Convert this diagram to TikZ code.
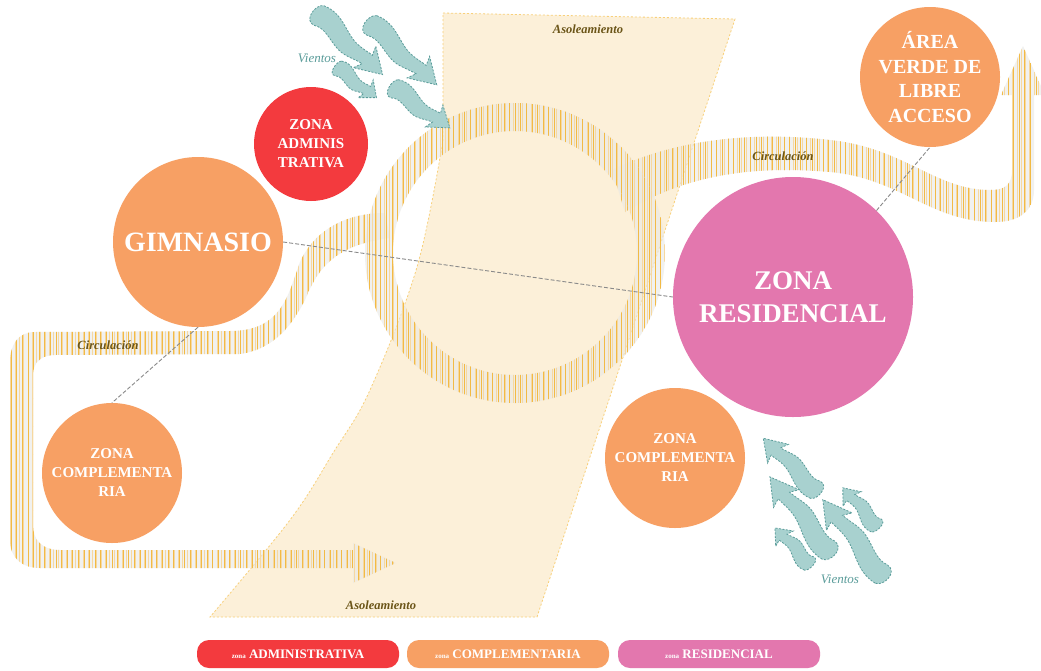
\documentclass[tikz,border=0pt]{standalone}
\usepackage{fontspec}
\setmainfont{Liberation Serif}
\usetikzlibrary{patterns.meta}
\definecolor{rojozona}{HTML}{F33A3E}
\definecolor{naranjazona}{HTML}{F7A064}
\definecolor{rosazona}{HTML}{E377AE}
\definecolor{sol}{HTML}{FCF0D9}
\definecolor{solborde}{HTML}{F8D07A}
\definecolor{rayas}{HTML}{F2BA45}
\definecolor{rayasclaras}{HTML}{F6D8A0}
\definecolor{grisfranja}{HTML}{E8E8E5}
\definecolor{tealviento}{HTML}{A8D1CF}
\definecolor{tealborde}{HTML}{5A9C9A}
\definecolor{oliva}{HTML}{6B5518}
\definecolor{trazo}{HTML}{8A8A8A}

\tikzset{
  pics/viento/.style={code={
    \draw[fill=tealviento, draw=tealborde, line width=0.8pt, dash pattern=on 2pt off 1.5pt]
      (0,-10) .. controls (22,-18) and (38,-5) .. (56,-5) .. controls (66,-5) and (72,-7) .. (77,-7)
      -- (73,-16) -- (100,0) -- (71,15) -- (75,6)
      .. controls (64,8) and (55,13) .. (44,12) .. controls (30,11) and (18,5) .. (7,11)
      .. controls (-6,15) and (-8,-6) .. (0,-10) -- cycle;
  }}
}

\begin{document}
\begin{tikzpicture}[x=1pt, y=-1pt, font=\small,
  zona/.style={circle, inner sep=0pt, text=white, align=center, font=\bfseries},
  enlace/.style={draw=trazo, line width=0.9pt, dash pattern=on 4pt off 2pt},
  franja/.style={preaction={fill=grisfranja, fill opacity=0.6},
    preaction={pattern={Lines[angle=90,distance=4.3pt,line width=0.6pt,xshift=2pt]}, pattern color=rayasclaras},
    pattern={Lines[angle=90,distance=5.6pt,line width=1pt]}, pattern color=rayas},
  anillo/.style={even odd rule, preaction={fill=grisfranja, fill opacity=0.6, even odd rule},
    preaction={even odd rule, pattern={Lines[angle=90,distance=4.3pt,line width=0.6pt,xshift=2pt]}, pattern color=rayasclaras},
    pattern={Lines[angle=90,distance=5.6pt,line width=1pt]}, pattern color=rayas},
  rotulo/.style={font=\fontsize{12.5}{13}\selectfont\bfseries\itshape, text=oliva},
  leyenda/.style={rounded corners=12pt, minimum width=202pt, minimum height=28pt, text=white,
    font=\fontsize{13}{13}\selectfont\bfseries}]
  \fill[white] (0,0) rectangle (1041,670);
  \useasboundingbox (0,0) rectangle (1041,670);

  % asoleamiento
  \path[fill=sol, draw=solborde, line width=0.8pt, dash pattern=on 2pt off 2pt]
    (443,13) -- (735,19) -- (537,617)
    -- plot[smooth, tension=0.6] coordinates {(210,617) (290,520) (333,453) (370,390) (417,267) (443,140)} -- cycle;

  % circulacion
  \path[franja] (385,213) .. controls (340,213) and (312,235) .. (300,262)
    .. controls (288,295) and (282,331) .. (230,331) -- (35,332)
    .. controls (18,332) and (10,345) .. (10,362) -- (10,540)
    .. controls (10,558) and (22,568) .. (40,568) -- (353,568) -- (353,583) -- (396,563)
    -- (353,543) -- (353,550) -- (60,550) .. controls (42,550) and (33,540) .. (33,525)
    -- (33,375) .. controls (33,362) and (42,355) .. (55,355) -- (240,354)
    .. controls (270,350) and (290,330) .. (305,300)
    .. controls (318,268) and (335,245) .. (390,238) -- cycle;
  \path[franja] (612,170) .. controls (680,137) and (760,132) .. (830,140)
    .. controls (905,148) and (935,190) .. (990,190)
    .. controls (1005,190) and (1012,185) .. (1012,170) -- (1012,95) -- (1001,95)
    -- (1023,46) -- (1045,95) -- (1034,95) -- (1034,190)
    .. controls (1034,210) and (1020,222) .. (995,222)
    .. controls (930,222) and (900,178) .. (830,172)
    .. controls (760,166) and (690,172) .. (625,212) -- cycle;
  \path[anillo] (515,253) circle[radius=150pt] (515,253) circle[radius=122pt];

  % zonas
  \node[zona, fill=rojozona, minimum size=114pt, font=\fontsize{15}{19}\selectfont\bfseries] (admin) at (311,144) {ZONA\\ADMINIS\\TRATIVA};
  \node[zona, fill=naranjazona, minimum size=170pt, font=\fontsize{28}{30}\selectfont\bfseries] (gim) at (198,242) {GIMNASIO};
  \node[zona, fill=naranjazona, minimum size=140pt, font=\fontsize{15}{19}\selectfont\bfseries] (compizq) at (112,473) {ZONA\\COMPLEMENTA\\RIA};
  \node[zona, fill=rosazona, minimum size=240pt, font=\fontsize{27}{33}\selectfont\bfseries] (res) at (793,297) {ZONA\\RESIDENCIAL};
  \node[zona, fill=naranjazona, minimum size=140pt, font=\fontsize{15}{19}\selectfont\bfseries] (compder) at (675,458) {ZONA\\COMPLEMENTA\\RIA};
  \node[zona, fill=naranjazona, minimum size=140pt, font=\fontsize{20}{24.5}\selectfont\bfseries] (verde) at (930,77) {ÁREA\\VERDE DE\\LIBRE\\ACCESO};

  \draw[enlace] (gim.east) -- (res.west);
  \draw[enlace] (gim.south) -- (compizq.north);
  \draw[enlace] (res.46) -- (verde.south);

  % vientos
  \pic[rotate=-43.2, xscale=0.9] at (317,13) {viento};
  \pic[rotate=-42.8, xscale=0.91] at (370,23) {viento};
  \pic[rotate=-37.8, xscale=0.5, yscale=0.75] at (337,67) {viento};
  \pic[rotate=-35.7, xscale=0.7, yscale=0.9] at (393,87) {viento};
  \pic[rotate=135, xscale=0.76, yscale=0.9] at (817,492) {viento};
  \pic[rotate=128.3, xscale=0.97] at (830,553) {viento};
  \pic[rotate=133.4, xscale=0.51, yscale=0.75] at (810,565) {viento};
  \pic[rotate=127.9, xscale=0.98] at (883,577) {viento};
  \pic[rotate=131.1, xscale=0.52, yscale=0.75] at (877,527) {viento};

  % rotulos
  \node[rotulo] (solarriba) at (588,29) {Asoleamiento};
  \node[rotulo] (solabajo) at (381,605) {Asoleamiento};
  \node[rotulo] (circder) at (783,156) {Circulación};
  \node[rotulo] (circizq) at (108,345) {Circulación};
  \node[font=\fontsize{13}{13}\selectfont\itshape, text=tealborde] (vientoarriba) at (317,58) {Vientos};
  \node[font=\fontsize{13}{13}\selectfont\itshape, text=tealborde] (vientoabajo) at (840,579) {Vientos};

  % leyenda
  \node[leyenda, fill=rojozona] (leyadmin) at (298,654) {{\fontsize{7}{7}\selectfont zona} ADMINISTRATIVA};
  \node[leyenda, fill=naranjazona] (leycomp) at (508,654) {{\fontsize{7}{7}\selectfont zona} COMPLEMENTARIA};
  \node[leyenda, fill=rosazona] (leyres) at (719,654) {{\fontsize{7}{7}\selectfont zona} RESIDENCIAL};
\end{tikzpicture}
\end{document}
